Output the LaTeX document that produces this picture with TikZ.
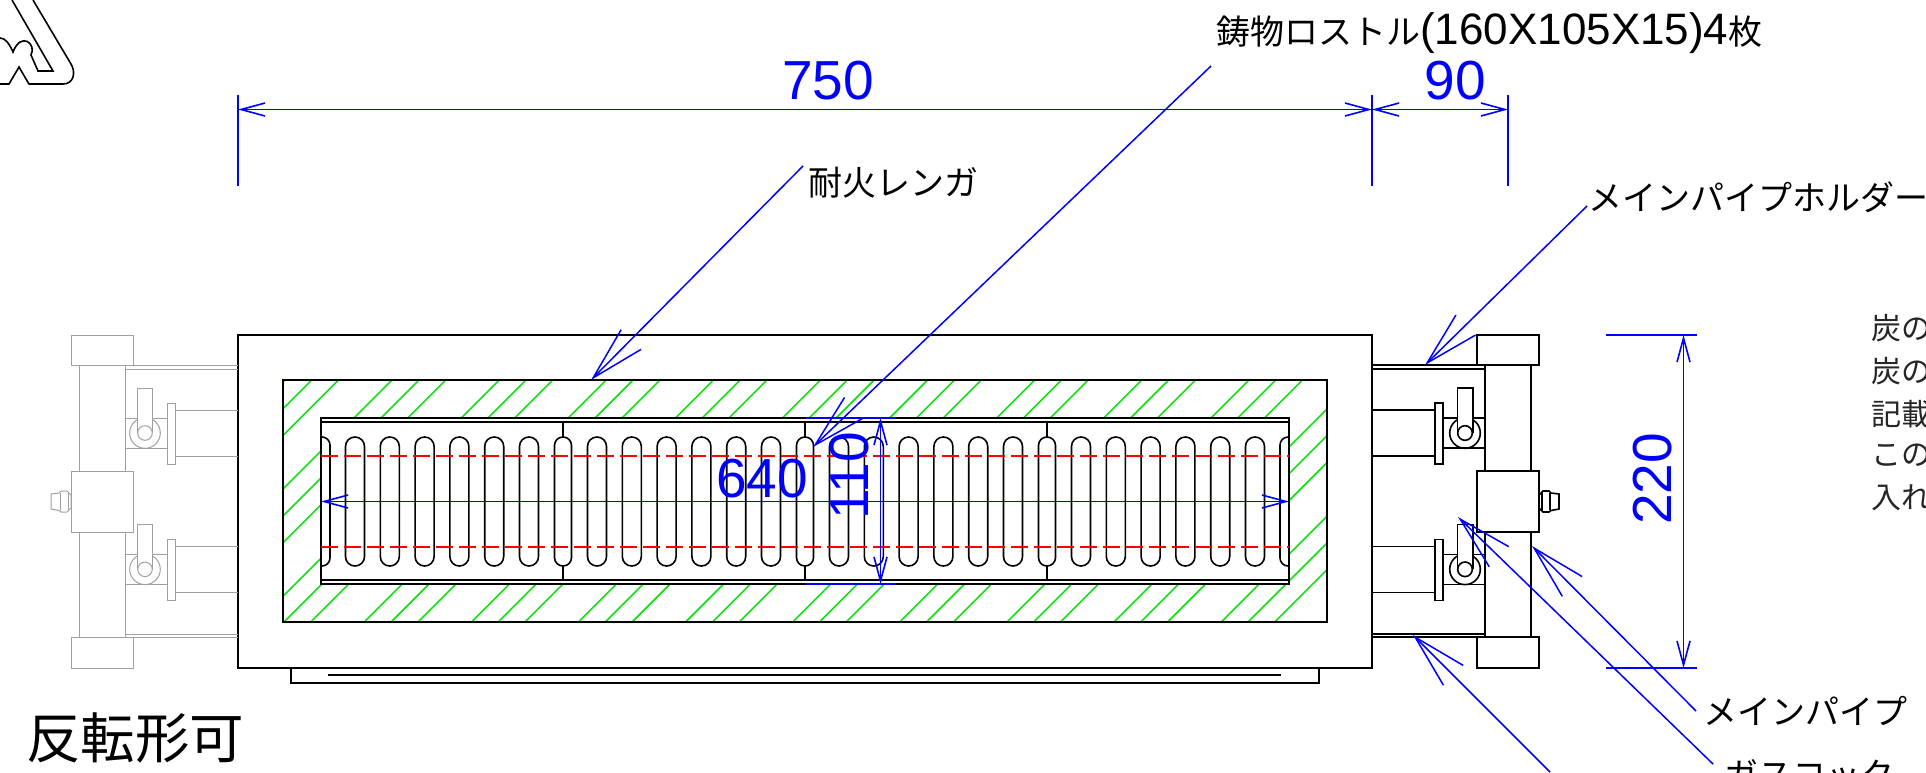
\documentclass[tikz,border=0pt]{standalone}
\usepackage{fontspec}
\usetikzlibrary{arrows.meta}
\setmainfont{Liberation Sans}
\newfontfamily\jpfont{Noto Sans CJK JP}
\definecolor{hatchgreen}{RGB}{20,225,20}
\definecolor{dimblue}{RGB}{0,0,255}
\definecolor{centrered}{RGB}{255,0,0}
\definecolor{sidegray}{RGB}{160,160,160}
\tikzstyle{outline} = [draw=black, line width=1.6pt]
\tikzstyle{hatchline} = [hatchgreen, line width=1.6pt]
\tikzstyle{centreline} = [centrered, line width=1.6pt, dash pattern=on 17pt off 6pt]
\tikzstyle{dimline} = [dimblue, line width=1.6pt, {Straight Barb[length=24pt,width=13pt]}-{Straight Barb[length=24pt,width=13pt]}]
\tikzstyle{extline} = [dimblue, line width=1.6pt]
\tikzstyle{leader} = [dimblue, line width=1.5pt, -{Straight Barb[length=54pt,width=28pt]}]
\tikzstyle{dimtext} = [text=dimblue, font=\fontsize{55}{58}\selectfont, inner sep=0pt]
\tikzstyle{jptext} = [text=black, font=\jpfont\fontsize{34}{38}\selectfont, inner sep=0pt, anchor=west]
\tikzstyle{notetext} = [text=black!85, font=\jpfont\fontsize{30}{32}\selectfont, inner sep=0pt, anchor=west]

% one pipe end: holder, main pipe, cocks
\newcommand{\pipeend}[1]{%
    \draw[#1] (1477,335) rectangle (1539,365);
    \draw[#1] (1477,637) rectangle (1539,668);
    \draw[#1] (1485,365) -- (1485,471) (1531,365) -- (1531,471);
    \draw[#1] (1485,532) -- (1485,637) (1531,532) -- (1531,637);
    \draw[#1] (1477,471) rectangle (1539,532);
    \draw[#1] (1372,365) -- (1477,365) (1372,369) -- (1485,369);
    \draw[#1] (1372,634) -- (1485,634) (1372,637) -- (1477,637);
    \draw[#1] (1539,495) -- (1543,491) -- (1549,491) -- (1551,493) -- (1559,494) -- (1559,509) -- (1551,510.5) -- (1549,512) -- (1543,512) -- (1539,508) -- cycle;
    \draw[#1] (1542,492) -- (1542,511) (1550,493) -- (1550,510);
    \foreach \cocky in {0,136.3}{
        \begin{scope}[yshift=-\cocky pt]
            \draw[#1] (1372,410) -- (1435,410) (1372,456) -- (1435,456);
            \draw[#1] (1435,403) rectangle (1443,464);
            \draw[#1] (1443,418) rectangle (1485,448);
            \draw[#1] (1465,433) circle (15.3);
            \draw[#1, fill=white] (1457.3,433) -- (1457.3,388) -- (1472.7,388) -- (1472.7,433);
            \draw[#1, fill=white] (1465,433) circle (7.3);
        \end{scope}
    }
}

\begin{document}
\begin{tikzpicture}[x=1pt, y=-1pt]
    \useasboundingbox (0,0) rectangle (1926,772);
    \clip (0,0) rectangle (1926,772);

    % logo corner
    \draw[outline] (12,0) -- (53,71) -- (38,71) -- (31,55)
        .. controls (37,44) and (21,31) .. (13,52)
        .. controls (9,43) and (5,38) .. (0,38);
    \draw[outline] (0,84) -- (9,84) -- (19,67) -- (29,84) -- (63,84)
        .. controls (74,84) and (76,72) .. (71,64) -- (33,0);

    % furnace body
    \draw[outline] (238,335) rectangle (1372,668);
    \draw[outline] (291,668) -- (291,683) -- (1319,683) -- (1319,668);
    \draw[outline] (328,675) -- (1281,675);

    % fire brick hatch
    \begin{scope}
        \clip (283,380) rectangle (1327,622);
        \foreach \k in {0,...,12}{
            \foreach \j in {0,1,2}{
                \pgfmathsetmacro{\c}{665+107.1*\k+26.8*\j}
                \draw[hatchline] (\c-300,300) -- (\c-700,700);
            }
        }
    \end{scope}
    \draw[outline] (283,380) rectangle (1327,622);

    % grate
    \draw[outline, fill=white] (321,418) rectangle (1289,584);
    \draw[outline] (321,422) -- (1289,422) (321,580) -- (1289,580);
    \foreach \i in {0,1,2,3}{
        \pgfmathsetmacro{\grx}{321+242*\i}
        \foreach \j in {0,...,5}{
            \pgfmathsetmacro{\slotx}{\grx+34+34.8*\j}
            \draw[outline, rounded corners=9.4pt] (\slotx-9.5,437) rectangle (\slotx+9.5,566);
        }
    }
    \foreach \splitx in {563,805,1047}{
        \draw[outline] (\splitx,422) -- (\splitx,437) (\splitx,566) -- (\splitx,580);
        \draw[outline, fill=white, rounded corners=8.4pt] (\splitx-8.5,437) rectangle (\splitx+8.5,566);
    }
    \draw[outline, rounded corners=8pt] (321,437) -- (330,437) -- (330,566) -- (321,566);
    \draw[outline, rounded corners=8pt] (1289,437) -- (1280,437) -- (1280,566) -- (1289,566);
    \draw[centreline] (321,456) -- (1289,456);
    \draw[centreline] (321,547) -- (1289,547);

    % pipe ends
    \pipeend{outline}
    \begin{scope}[xshift=1610pt, xscale=-1]
        \pipeend{draw=sidegray, line width=1pt}
    \end{scope}

    % dimensions
    \coordinate (dimA) at (238,109.5);
    \coordinate (dimB) at (1372,109.5);
    \coordinate (dimC) at (1508,109.5);
    \draw[extline] (238,94.5) -- (238,186) (1372,94.5) -- (1372,186) (1508,94.5) -- (1508,186);
    \draw[dimline] (dimA) -- (dimB);
    \draw[dimline] (dimB) -- (dimC);
    \node[dimtext] (dim750) at (828,81) {750};
    \node[dimtext] (dim90) at (1455,81) {90};

    \coordinate (dimD) at (1683.5,335);
    \coordinate (dimE) at (1683.5,668);
    \draw[extline] (1606,335) -- (1697,335) (1606,668) -- (1697,668);
    \draw[dimline] (dimD) -- (dimE);
    \node[dimtext, rotate=90] (dim220) at (1653,479) {220};

    \coordinate (dimF) at (321,501.5);
    \coordinate (dimG) at (1289,501.5);
    \draw[dimline] (dimF) -- (dimG);
    \node[dimtext] (dim640) at (762,479) {640};

    \coordinate (dimH) at (880.5,418);
    \coordinate (dimI) at (880.5,584);
    \draw[extline] (805,418) -- (896,418) (805,584) -- (896,584);
    \draw[dimline] (dimH) -- (dimI);
    \node[dimtext, rotate=90] (dim110) at (850,476) {110};

    % labels and leaders
    \node[jptext] (firebrick) at (808,183) {耐火レンガ};
    \coordinate (firebricktip) at (591,380);
    \draw[leader] ([shift={(-5pt,17pt)}]firebrick.west) -- (firebricktip);

    \node[jptext] (grate) at (1216,33) {鋳物ロストル{\rmfamily\fontsize{44}{46}\selectfont (160X105X15)4}枚};
    \coordinate (gratetip) at (813,447);
    \draw[leader] ([shift={(-5pt,-33pt)}]grate.west) -- (gratetip);

    \node[jptext] (holder) at (1588.5,197) {メインパイプホルダー};
    \coordinate (holdertip) at (1425,365);
    \draw[leader] ([shift={(-1.5pt,-9pt)}]holder.west) -- (holdertip);

    \node[jptext] (mainpipe) at (1703,711) {メインパイプ};
    \coordinate (mainpipetip) at (1532,546);
    \draw[leader] ([xshift=-7pt]mainpipe.west) -- (mainpipetip);

    \node[jptext] (gascock) at (1724,775) {ガスコック};
    \coordinate (gascocktip) at (1458,517);
    \draw[leader] ([shift={(-11pt,11pt)}]gascock.west) -- (gascocktip);

    \coordinate (holderfoot) at (1550,772);
    \coordinate (holderfoottip) at (1413,635);
    \draw[leader] (holderfoot) -- (holderfoottip);

    % note and title
    \node[notetext] (noteA) at (1871,328) {炭の};
    \node[notetext] (noteB) at (1871,371) {炭の};
    \node[notetext] (noteC) at (1871,414) {記載};
    \node[notetext] (noteD) at (1871,455) {この};
    \node[notetext] (noteE) at (1871,498) {入れ};
    \node[jptext, font=\jpfont\fontsize{54.5}{60}\selectfont] (title) at (26,738) {反転形可};
\end{tikzpicture}
\end{document}
